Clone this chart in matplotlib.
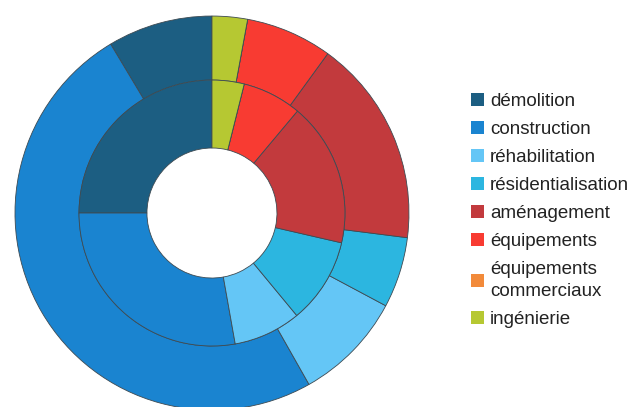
import matplotlib.pyplot as plt
from matplotlib.patches import Patch

categories = ["démolition", "construction", "réhabilitation", "résidentialisation",
              "aménagement", "équipements", "équipements\ncommerciaux", "ingénierie"]
colors = ["#1c5e82", "#1a84d0", "#64c6f6", "#2cb6e0",
          "#c23a3d", "#f83b32", "#f28a3a", "#b6c832"]

# outer ring and inner ring shares (%)
outer = [8.6, 49.6, 9.0, 5.8, 17.0, 7.1, 0.0, 2.9]
inner = [25.0, 27.8, 8.2, 10.4, 17.5, 7.2, 0.0, 3.9]

fig = plt.figure(figsize=(6.32, 4.07), dpi=100)
ax = fig.add_axes([0.0237, -0.0074, 0.6234, 0.968])

edge = dict(edgecolor="#3d4a52", linewidth=0.6)
ax.pie(outer, radius=1.0, colors=colors, startangle=90, counterclock=True,
       wedgeprops=dict(width=0.325, **edge))
ax.pie(inner, radius=0.675, colors=colors, startangle=90, counterclock=True,
       wedgeprops=dict(width=0.345, **edge))
ax.set_xlim(-1, 1)
ax.set_ylim(-1, 1)
ax.set_aspect("equal")
ax.axis("off")

handles = [Patch(facecolor=c, edgecolor="none") for c in colors]
leg = fig.legend(handles, categories, loc="center left", bbox_to_anchor=(0.745, 0.483),
                 frameon=False, borderpad=0, borderaxespad=0,
                 prop=dict(family="Liberation Sans", size=13.5),
                 handlelength=0.7, handleheight=0.7, handletextpad=0.32,
                 labelspacing=0.58)
for t in leg.get_texts():
    t.set_color("#222222")
    t.set_linespacing(1.4)

fig.savefig("out.png", dpi=100)
